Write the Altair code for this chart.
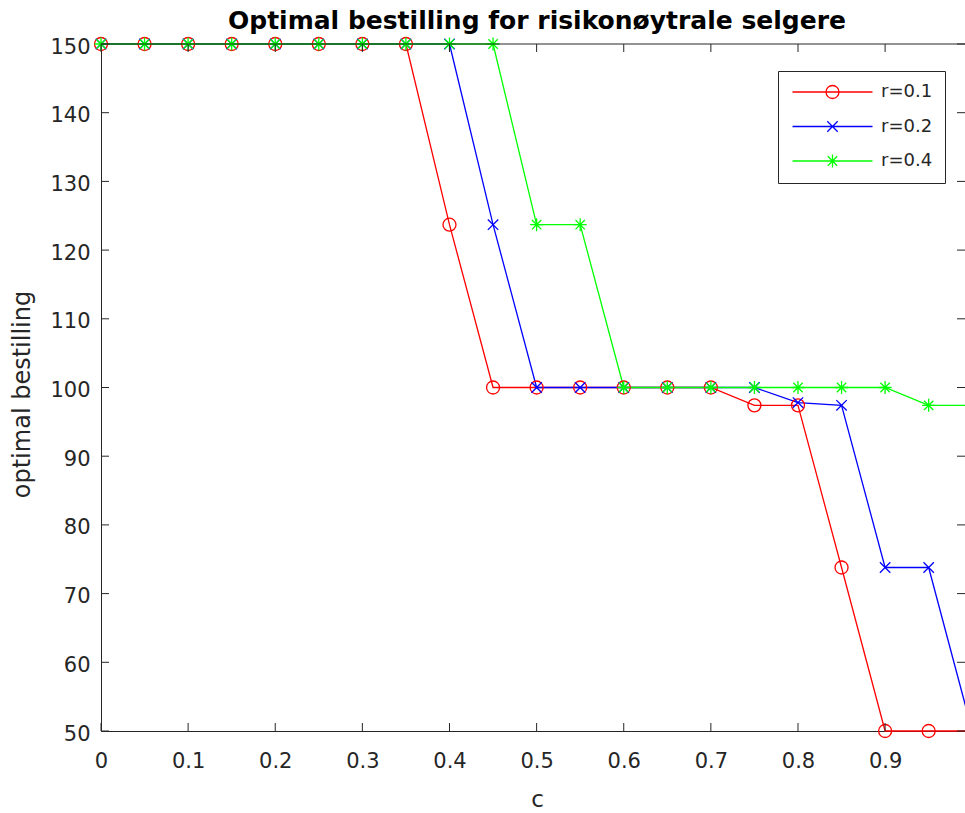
import altair as alt
import pandas as pd

# ---- data -------------------------------------------------------------
c_values = [0.0, 0.05, 0.1, 0.15, 0.2, 0.25, 0.3, 0.35, 0.4, 0.45, 0.5,
            0.55, 0.6, 0.65, 0.7, 0.75, 0.8, 0.85, 0.9, 0.95, 1.0]

order_r01 = [150, 150, 150, 150, 150, 150, 150, 150, 123.7, 100, 100,
             100, 100, 100, 100, 97.4, 97.4, 73.8, 50, 50, 50]
order_r02 = [150, 150, 150, 150, 150, 150, 150, 150, 150, 123.7, 100,
             100, 100, 100, 100, 100, 97.8, 97.4, 73.8, 73.8, 50]
order_r04 = [150, 150, 150, 150, 150, 150, 150, 150, 150, 150, 123.7,
             123.7, 100, 100, 100, 100, 100, 100, 100, 97.4, 97.4]

series_names = ["r=0.1", "r=0.2", "r=0.4"]
series_colors = ["#ff0000", "#0000ff", "#00ff00"]

x_ticks = [0, 0.1, 0.2, 0.3, 0.4, 0.5, 0.6, 0.7, 0.8, 0.9]
y_ticks = [50, 60, 70, 80, 90, 100, 110, 120, 130, 140, 150]

rows = []
for name, vals in zip(series_names, [order_r01, order_r02, order_r04]):
    for c, v in zip(c_values, vals):
        rows.append({"c": c, "q": v, "r": name})
df = pd.DataFrame(rows)
x_tick_df = pd.DataFrame({"c": x_ticks})
y_tick_df = pd.DataFrame({"q": y_ticks})
one_row = pd.DataFrame({"k": [0]})

# ---- styling ----------------------------------------------------------
FONT = "DejaVu Sans"
INK = "#262626"
X_MAX = 0.9917          # visible part of the c-range
PLOT_W, PLOT_H = 864, 687
TICK = 8                # inward tick length, px
LW = 1.3                # line / marker stroke width

# marker outlines: circle, x-cross, asterisk
marker_paths = [
    "M-1,0A1,1,0,1,1,1,0A1,1,0,1,1,-1,0Z",
    "M-0.8,-0.8L0.8,0.8M-0.8,0.8L0.8,-0.8",
    "M0,-1L0,1M-1,0L1,0M-0.72,-0.72L0.72,0.72M-0.72,0.72L0.72,-0.72",
]
# legend keys: a line segment with the marker in the middle
LINE = "M-6.15,0L6.15,0"
legend_paths = [LINE + p for p in marker_paths]

x_scale = alt.Scale(domain=[0, X_MAX], nice=False, zero=False)
y_scale = alt.Scale(domain=[50, 150], nice=False, zero=False)


def series_color(legend=None):
    return alt.Color("r:N", scale=alt.Scale(domain=series_names,
                                            range=series_colors),
                     legend=legend)


main_x_axis = alt.Axis(
    orient="bottom", values=x_ticks, format="~g", ticks=False, tickSize=0,
    domain=True, domainColor=INK, domainWidth=1, labelFont=FONT,
    labelFontSize=21, labelColor=INK, labelPadding=19, labelFlush=False,
    labelOverlap=False, grid=False, title="c", titleFont=FONT,
    titleFontSize=23, titleFontWeight="normal", titleColor=INK,
    titleX=436, titleY=68, titleBaseline="middle", titleAlign="center")

main_y_axis = alt.Axis(
    orient="left", values=y_ticks, format="d", ticks=False, tickSize=0,
    domain=True, domainColor=INK, domainWidth=1, labelFont=FONT,
    labelFontSize=21, labelColor=INK, labelPadding=11, labelOffset=3,
    labelFlush=False, labelOverlap=False, grid=False,
    title="optimal bestilling", titleFont=FONT, titleFontSize=24,
    titleFontWeight="normal", titleColor=INK, titleAngle=270,
    titleX=-79, titleY=350, titleBaseline="middle", titleAlign="center")

key_legend = alt.Legend(
    title=None, orient="none", legendX=677, legendY=27, padding=12,
    rowPadding=15.5, symbolSize=169, symbolStrokeWidth=LW,
    symbolOffset=33.5, labelOffset=39.5, labelFont=FONT, labelFontSize=18,
    labelColor=INK, strokeColor=INK, fillColor="white", cornerRadius=0,
    symbolFillColor="transparent")

# ---- layers -------------------------------------------------------------
lines = alt.Chart(df).mark_line(strokeWidth=LW).encode(
    x=alt.X("c:Q", scale=x_scale, axis=main_x_axis),
    y=alt.Y("q:Q", scale=y_scale, axis=main_y_axis),
    color=series_color(),
    order="c:Q",
)

points = alt.Chart(df).mark_point(filled=False, size=169, strokeWidth=LW,
                                  opacity=1).encode(
    x=alt.X("c:Q", scale=x_scale, axis=None),
    y=alt.Y("q:Q", scale=y_scale, axis=None),
    color=series_color(),
    shape=alt.Shape("r:N", scale=alt.Scale(domain=series_names,
                                           range=marker_paths), legend=None),
)

# legend only: no rows survive the filter, the scale domains fill the keys
key = alt.Chart(df).transform_filter("false").mark_point(
    filled=False, size=169, strokeWidth=LW, opacity=1).encode(
    x=alt.X("c:Q", scale=x_scale, axis=None),
    y=alt.Y("q:Q", scale=y_scale, axis=None),
    color=series_color(key_legend),
    shape=alt.Shape("r:N", scale=alt.Scale(domain=series_names,
                                           range=legend_paths),
                    legend=key_legend),
)

# inward tick marks on all four sides, plus the top frame line
tick_style = dict(color=INK, strokeWidth=1)
x_ticks_bottom = alt.Chart(x_tick_df).mark_rule(**tick_style).encode(
    x=alt.X("c:Q", scale=x_scale, axis=None),
    y=alt.value(PLOT_H), y2=alt.value(PLOT_H - TICK))
x_ticks_top = alt.Chart(x_tick_df).mark_rule(**tick_style).encode(
    x=alt.X("c:Q", scale=x_scale, axis=None),
    y=alt.value(0), y2=alt.value(TICK))
y_ticks_left = alt.Chart(y_tick_df).mark_rule(**tick_style).encode(
    y=alt.Y("q:Q", scale=y_scale, axis=None),
    x=alt.value(0), x2=alt.value(TICK))
y_ticks_right = alt.Chart(y_tick_df).mark_rule(**tick_style).encode(
    y=alt.Y("q:Q", scale=y_scale, axis=None),
    x=alt.value(PLOT_W - TICK), x2=alt.value(PLOT_W))
top_line = alt.Chart(one_row).mark_rule(**tick_style).encode(
    x=alt.value(0), x2=alt.value(PLOT_W), y=alt.value(0))

chart = alt.layer(
    lines, points, key,
    x_ticks_bottom, x_ticks_top, y_ticks_left, y_ticks_right, top_line,
).resolve_scale(
    color="independent", shape="independent"
).resolve_axis(
    x="independent", y="independent"
).properties(
    width=PLOT_W,
    height=PLOT_H,
    autosize="none",
    padding={"left": 101, "top": 44, "right": 0, "bottom": 82},
    background="white",
    title=alt.Title("Optimal bestilling for risikonøytrale selgere",
                    font=FONT, fontSize=25, fontWeight="bold",
                    color="black", anchor="middle", frame="group", dx=4,
                    dy=25, offset=6, baseline="alphabetic"),
).configure_view(stroke=None)

chart.save("out.html", embed_options={"renderer": "svg", "actions": False})
